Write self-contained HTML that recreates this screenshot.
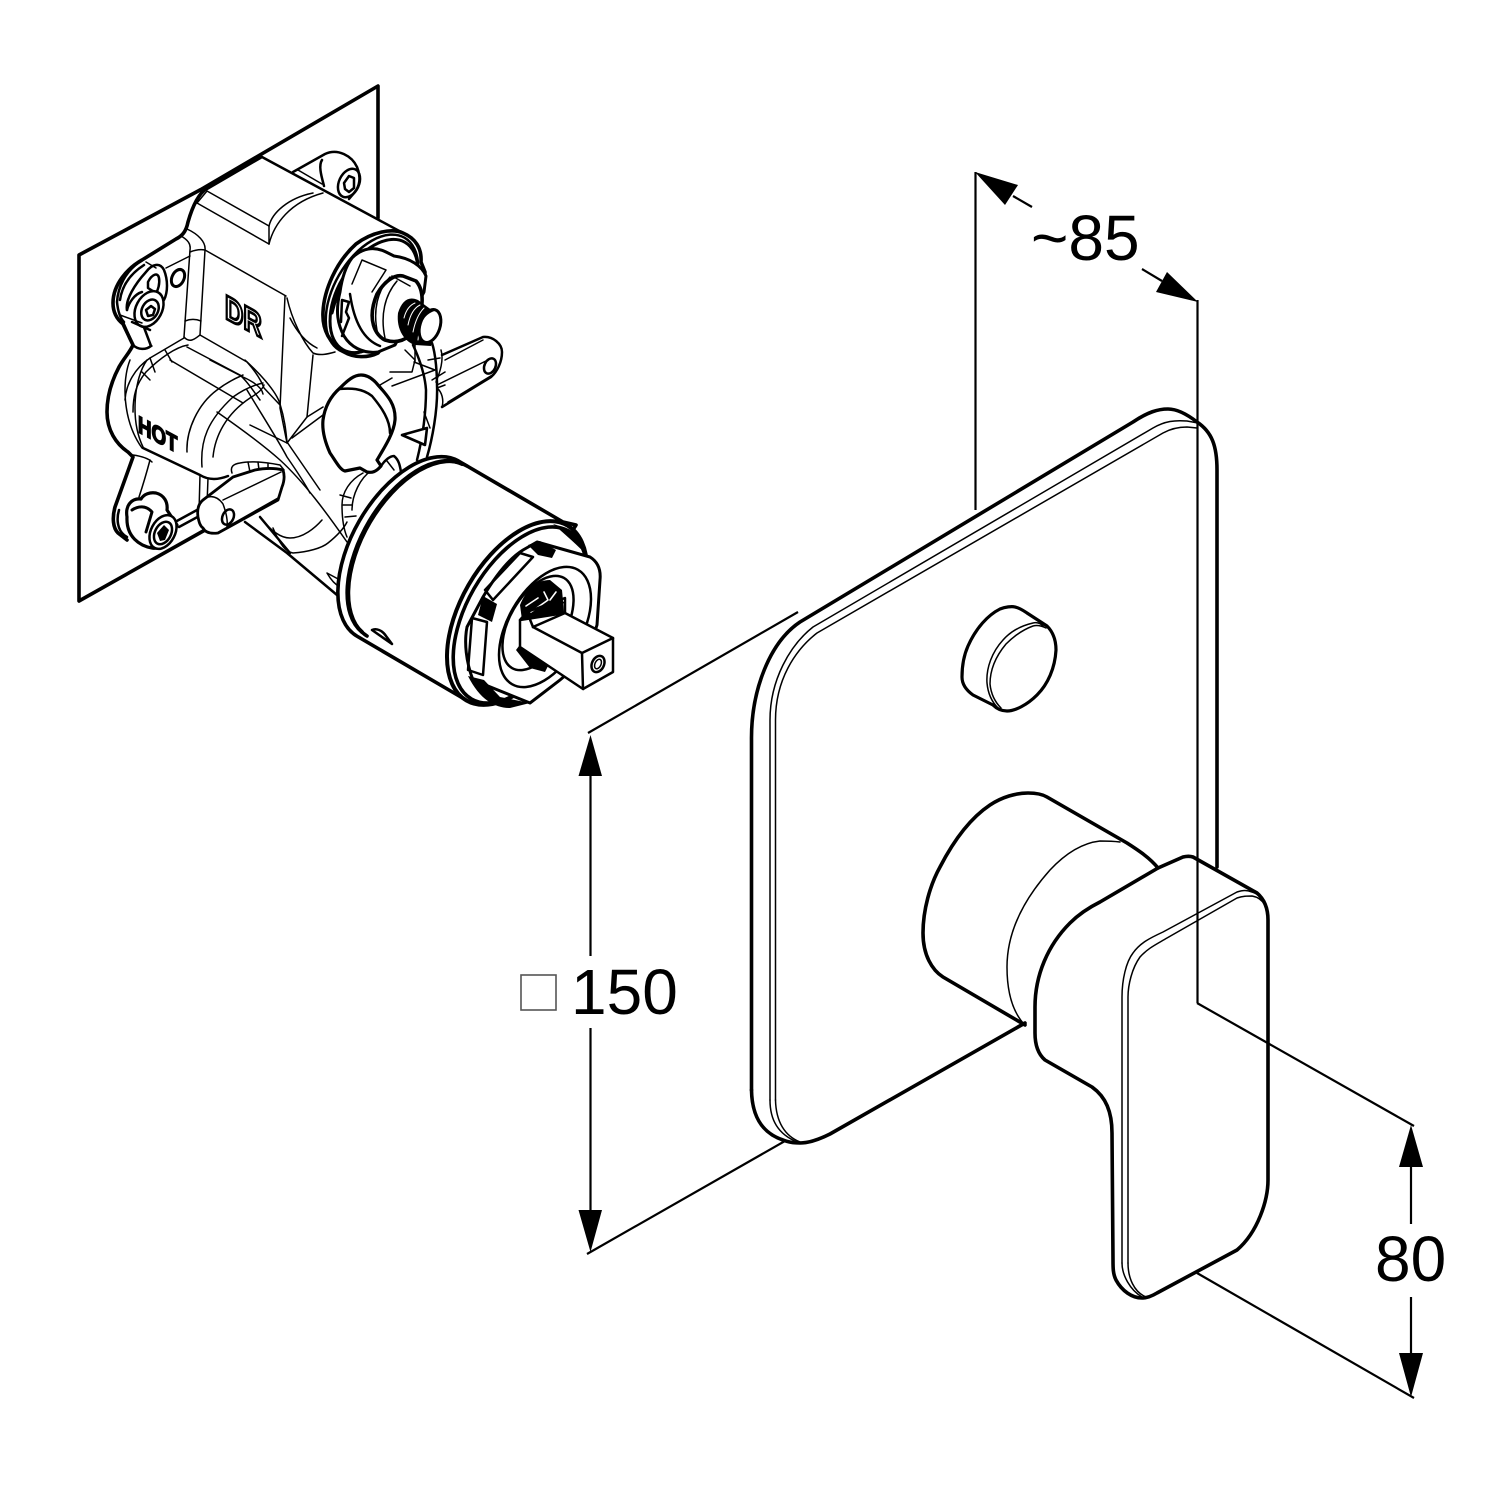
<!DOCTYPE html>
<html><head><meta charset="utf-8"><title>Diagram</title>
<style>html,body{margin:0;padding:0;background:#fff}svg{display:block}
.k{stroke:#000;fill:none;stroke-linecap:round;stroke-linejoin:round}
.t3{stroke-width:3.6}.t2{stroke-width:2.5}.t1{stroke-width:1.5}.w{fill:#fff}.f{fill:#000;stroke:none}
text{font-family:"Liberation Sans",sans-serif}</style></head><body>
<svg width="1500" height="1500" viewBox="0 0 1500 1500" xmlns="http://www.w3.org/2000/svg">
<rect width="1500" height="1500" fill="#fff"/>

<!-- wall plate -->
<g class="k t3">
<path d="M200 190L378 86V218"/><path d="M205 530L79 601V255L200 190"/>
</g>

<!-- valve body: outline -->
<g class="k t3">
<path d="M207 188C198 194 192 208 188 222C186 232 182 236 176 239L142 260C128 268 113 284 113 303C113 314 118 320 123 324L133 345C130 352 124 358 119 367C110 384 107 398 107 412C107 430 116 444 128 452L133 457L115 507C112 518 113 528 118 533L127 540"/>
</g>
<g class="k t2">
<path d="M262 157L403 233"/>
<path d="M262 157L207 189"/>
<path d="M293 172L325 154C338 148 352 156 357 167C361 177 360 186 354 193L349 199"/>
<path d="M322 160C318 166 322 178 324 186"/>
<ellipse cx="349" cy="183" rx="10" ry="15" transform="rotate(25 349 183)"/>
<path d="M344 183L349 176L354 178L354 188L349 192L345 189Z"/>
</g>
<g class="k t1">
<path d="M207 191L269 226"/><path d="M197 203L269 244"/>
<path d="M269 226L269 244"/><path d="M207 191L197 203"/>
<path d="M269 244C274 224 290 202 323 193"/><path d="M269 226C272 213 288 198 313 193"/>
<path d="M298 170L322 184"/>
<path d="M187 229C198 234 206 242 205 250L200 335"/>
<path d="M181 236C188 240 191 244 190 250L184 337"/>
<path d="M190 252C195 250 200 249 205 250"/><path d="M185 321C190 319 196 319 201 321"/>
<path d="M205 250L286 296"/>
<path d="M285 296L280 408L287 443"/>
<path d="M287 298C292 320 303 342 313 353C320 356 328 354 335 352"/>
<path d="M290 318C296 330 305 342 317 348"/>
<path d="M313 355L307 417L287 443"/><path d="M292 438L323 415"/><path d="M307 417L323 407"/>
<path d="M200 335L247 362C256 372 261 380 264 388L280 405"/>
<path d="M187 347L240 375C248 382 254 392 260 400"/>
<path d="M184 337C190 344 196 338 200 335"/>
<path d="M184 338L150 358C135 368 126 384 125 400"/>
<path d="M188 345C176 347 160 358 146 372C136 384 133 396 133 412"/>
<path d="M165 350L172 362"/><path d="M150 358L155 372"/><path d="M142 372L150 380"/>
<path d="M130 360C122 380 122 420 142 448"/>
<path d="M147 360C134 378 130 420 143 447"/>
<path d="M170 360L243 403"/>
<path d="M210 360L243 377C254 382 262 388 263 394"/>
<path d="M245 360C256 370 276 390 280 404C285 420 286 432 287 442"/>
<path d="M187 452C186 430 198 404 217 390C226 383 236 378 243 375"/>
<path d="M202 467C200 440 208 420 233 397C244 389 254 385 263 383"/>
<path d="M213 457C215 436 226 414 250 398C258 393 262 390 264 385"/>
<path d="M217 412C240 428 262 444 280 460C304 482 326 512 347 542"/>
<path d="M247 390C262 415 278 440 287 457C296 470 304 482 310 493"/>
<path d="M260 517C270 530 280 538 290 538C303 538 315 528 322 520"/>
<path d="M273 528C280 545 286 552 293 553C308 552 322 548 328 543C338 535 344 528 347 522"/>
<path d="M287 442L320 490"/>
<path d="M363 473C350 480 342 492 342 505C342 518 344 530 347 537"/>
<path d="M372 470C360 478 352 495 352 510"/>
<path d="M343 505L352 505"/><path d="M345 517L356 516"/><path d="M340 495L351 498"/>
<path d="M327 573C331 580 336 585 340 587L340 580Z"/>
<path d="M250 425L287 443"/>
<path d="M200 475L199 512"/><path d="M208 478L207 505"/>
</g>
<!-- ear left upper -->
<g class="k t2">
<path d="M138 263C126 272 118 286 117 302C118 312 120 318 124 322"/>
<path d="M144 265C130 274 122 286 120 300"/>
<path d="M123 322L133 345C138 350 146 350 151 346L142 322"/>
<path d="M127 310C125 300 135 284 146 272C152 264 160 262 164 270C168 280 168 292 164 300"/>
<path d="M148 282C152 274 158 272 159 278C160 284 158 290 156 293L148 288Z"/>
<ellipse cx="149" cy="309" rx="13" ry="19" class="w" transform="rotate(28 149 309)"/>
<path d="M127 310C129 302 135 294 142 292"/><path d="M132 322L150 330"/>
<ellipse cx="150" cy="310" rx="8" ry="11" transform="rotate(28 150 310)"/>
<path d="M146 310L151 306L155 309L153 315L148 316Z"/>
<ellipse cx="178" cy="278" rx="6" ry="9" stroke-width="3" transform="rotate(25 178 278)"/>
</g>
<path class="k t1" d="M150 345L152 346M166 268L190 256"/>
<path class="k t1" d="M146 262L156 268M120 315L142 323"/>
<!-- ear left lower + screw -->
<g class="k t1"><path d="M150 460C146 475 142 488 139 497"/><path d="M133 455C140 456 148 458 152 462"/></g>
<g class="k t2">
<path d="M119 510C116 520 118 530 124 535L127 537"/>
<path d="M175 522L197 510"/><path d="M179 527L203 514"/>
<path class="w" stroke-width="3.2" d="M127 517C125 505 132 498 141 499C144 494 150 492 156 493C164 495 168 502 167 510L177 525C172 540 162 550 152 548C140 546 126 537 127 517Z"/>
<path stroke-width="3" d="M132 510C138 506 146 505 152 512L146 532"/>
<ellipse cx="163" cy="532" rx="12" ry="18" class="w" transform="rotate(28 163 532)"/>
<ellipse cx="163" cy="533" rx="8" ry="12" transform="rotate(28 163 533)"/>
<path class="f" d="M157 533L164 525L169 530L165 540L160 541Z"/>
<path d="M245 522L287 553L337 595"/>
<path d="M260 517L290 553"/>
<path d="M143 448L200 475C208 480 218 480 228 476"/>
</g>

<!-- left tab -->
<path class="k t1" d="M232 473C230 467 233 464 240 463C250 461 265 462 280 465L284 470"/>
<path class="k t1" d="M248 462L250 472M258 462L259 470M268 463L268 468"/>
<path class="k w" stroke-width="2.8" d="M198 517C197 510 198 504 203 500L233 477L255 470C265 468 275 468 283 470C285 476 284 482 282 487L278 500L218 533C210 534 205 532 203 528C200 526 199 522 198 517Z"/>
<path class="k t1" d="M205 498C212 495 218 497 223 504C226 512 228 520 227 527"/>
<path class="k t1" d="M223 500L281 472"/><path class="k t1" d="M227 527L278 498"/>
<ellipse class="k t2" cx="228" cy="517" rx="5.500" ry="8" transform="rotate(25 228 517)"/>

<!-- knob -->
<path class="k w" stroke-width="3.200" d="M323 420C325 405 332 395 340 388C348 380 354 375 361 375C368 375 374 380 378 385C388 396 396 405 395 420C394 432 386 445 377 460L381 466C376 472 372 473 367 472L360 468L345 471C340 470 335 460 330 453C325 442 322 430 323 420Z"/>
<path class="k t2" d="M339 389C350 388 362 388 372 396C382 408 390 420 390 433"/>
<path class="k t2" d="M381 466C385 460 390 456 394 456C399 460 400 466 401 472"/>
<path class="k t1" d="M387 461L394 470"/>

<!-- right tab -->
<path class="k t2" d="M442 355L483 337C493 336 502 344 502 352C502 362 497 372 491 377L442 407"/>
<path class="k t1" d="M445 360L483 340"/><path class="k t1" d="M437 385L492 358"/><path class="k t1" d="M448 402L494 374"/>
<ellipse class="k t2" cx="490" cy="366" rx="5.500" ry="8" transform="rotate(25 490 366)"/>
<!-- pipe strip -->
<g class="k t2">
<path d="M413 345C420 360 425 375 426 390C426 415 422 440 417 460"/>
<path d="M432 343C436 355 437 375 437 385C438 410 432 440 427 457"/>
</g>
<g class="k t1"><path d="M428 360L440 358"/><path d="M432 380L445 372"/><path d="M437 388L445 385"/><path d="M441 350C444 360 440 372 436 382"/><path d="M437 388C442 392 444 400 442 407"/><path d="M405 350L415 360L412 372L390 372"/><path d="M415 345L415 362"/><path d="M414 362L435 370L392 386"/><path d="M380 385L392 378"/></g>
<path class="k w" stroke-width="2.600" d="M402 435L427 428L425 445Z"/>
<path class="k t1" d="M424 412L430 428"/>

<!-- upper rings and spindle -->
<path class="k t3 w" d="M403 233C415 238 422 248 421 262L425 272C425 282 422 294 412 300L395 330L378 353C368 358 354 358 344 352C330 344 322 330 323 312C324 290 336 262 356 244C372 232 392 228 403 233Z"/>
<ellipse class="k t2" cx="372" cy="294" rx="38" ry="65" transform="rotate(30 372 294)"/>
<ellipse class="k" stroke-width="3" cx="374" cy="296" rx="36" ry="62" transform="rotate(30 374 296)"/>
<path class="k" stroke-width="3" d="M332 313C338 288 350 262 372 247"/>
<path class="k w" stroke-width="3" d="M352 258C362 248 374 246 386 252L394 256C410 258 422 266 426 276L424 292L410 318L395 345L378 352C362 354 350 346 344 336C338 325 335 312 340 292C342 278 346 266 352 258Z"/>
<path class="k t2" d="M341 322L342 300L349 302L346 312L349 318L342 336"/>
<path class="k t1" d="M352 284L362 260L386 270L372 292"/>
<path class="k t2" d="M350 294C354 322 364 340 380 346"/>
<path class="k t3 w" d="M377 294C384 282 394 274 403 276L416 281C424 290 425 308 414 330C408 340 397 344 385 340C376 336 366 320 377 294Z"/>
<path class="k t1" d="M390 277C378 290 372 310 378 335"/><path class="k t1" d="M397 281C385 295 380 315 385 338"/>
<path class="k t1" d="M392 276L410 286"/>
<path class="f" d="M398 313C402 300 409 296 418 300L440 316L431 346L415 345C405 342 396 330 398 313Z"/>
<g class="k" stroke="#fff" stroke-width="1" style="stroke:#fff"><path d="M404 318C406 310 410 305 415 303"/><path d="M408 325C410 315 414 308 420 305"/><path d="M413 332C415 322 418 314 424 308"/><path d="M418 340C419 328 423 318 428 313"/></g>
<ellipse class="k w" stroke-width="3" cx="430" cy="326" rx="10" ry="17" transform="rotate(18 430 326)"/>
<path class="k t1" d="M421 322C424 316 428 312 435 310"/>

<!-- cartridge -->
<path class="k w" stroke-width="3.600" d="M458.500 461A56 101 30 0 0 357.500 636.500L466 700L576 525L563 522Z"/>
<path class="k" stroke-width="4" d="M462 464A54 98 30 0 0 362 632"/>
<path class="k t3" d="M467 466A53 95 30 0 0 367 636"/>
<path class="k t2" d="M372 630C376 628 382 630 386 636L392 644Z"/>
<ellipse class="k w" stroke-width="4" cx="517" cy="613" rx="56" ry="101" transform="rotate(30 517 613)"/>
<ellipse class="k t3" cx="520" cy="615" rx="53" ry="97" transform="rotate(30 520 615)"/>
<path class="f" d="M553 524C570 528 582 540 588 556C578 546 566 535 553 524Z"/>
<path class="k w" stroke-width="3" d="M483 597C496 575 510 558 523 550L537 542L590 557C598 562 601 570 600 580L597 625C590 648 575 668 560 680L530 703L473 680C466 662 464 642 467 627Z"/>
<path class="f" d="M483 596L497 604L492 622L478 615Z"/>
<path class="f" d="M528 545L540 541L556 550L552 558L538 555Z"/>
<path class="f" d="M468 676L484 680L500 697L530 703L510 708C495 708 480 700 468 676Z"/>
<path class="k t2" d="M485 590L520 553L533 557L493 600Z"/>
<path class="k t2" d="M472 618L487 622L483 675L468 670Z"/>
<ellipse class="k t2" cx="545" cy="627" rx="37" ry="66" transform="rotate(30 545 627)"/>
<ellipse class="k t2" cx="538" cy="623" rx="28" ry="52" transform="rotate(30 538 623)"/>
<path class="f" d="M520 605C526 590 536 580 550 580L562 590L564 612L530 625L522 620Z"/>
<path class="k" style="stroke:#fff" stroke-width="1.6" d="M526 606L538 598M531 612L548 600L544 592M550 600L556 592"/>
<path class="f" d="M516 650L522 642L528 650L538 660L548 666L545 672L530 668Z"/>
<path class="k w t2" d="M520 620L565 613L613 638L613 672L583 689L520 647Z"/>
<path class="k t2" d="M533 627L582 653L613 638"/><path class="k t2" d="M582 653L583 689"/>
<path class="k t2" d="M520 620L527 612L565 598L565 613L533 627"/>
<path class="k t1" d="M538 612L565 602"/>
<path class="k t2" d="M527 612L533 627"/>
<ellipse class="k t2" cx="598" cy="664" rx="6" ry="8.500" transform="rotate(25 598 664)"/>
<ellipse class="k t1" cx="598" cy="664" rx="3" ry="5" transform="rotate(25 598 664)"/>

<!-- embossed labels -->
<text x="0" y="0" transform="matrix(.75,.41,0,1,225,318)" font-size="34" font-weight="700" fill="#fff" stroke="#000" stroke-width="3">DR</text>
<text x="0" y="0" transform="matrix(.78,.42,0,1,138,432)" font-size="24" font-weight="700" fill="#000" stroke="#000" stroke-width="1.600">HOT</text>

<!-- plate -->
<path class="k t3" d="M751.500 1090V740C751 690 770 642 800 622L1133 422C1148 412 1158 409 1168 409C1178 409 1188 415 1197 422C1212 432 1217 446 1217 470V867"/>
<path class="k t3" d="M751.500 1090C752 1120 765 1134 783 1140C790 1143 796 1143 800 1143C810 1143 820 1139 830 1134L1025 1023"/>
<path class="k t1" d="M770 1100V720C770 680 790 645 813 627L1153 428C1165 421 1175 420 1187 421L1198 423"/>
<path class="k t1" d="M775.500 1100V720C775.500 680 795 650 817 633L1163 433C1172 428 1180 427 1187 427L1197 428"/>
<path class="k t1" d="M770 1100C770 1120 778 1134 797 1142"/>
<path class="k t1" d="M775.500 1100C776 1122 785 1136 800 1142"/>

<!-- button -->
<path class="k w" stroke-width="3.200" d="M962 677C962 664 964 655 968 646C976 628 988 615 1000 609C1005 607 1012 606 1015 607C1020 608 1024 611 1027 613L1047 626C1053 632 1056 640 1056 650C1055 668 1048 684 1037 695C1027 705 1015 711 1007 711C1000 711 996 708 993 705L973 695C966 690 962 684 962 677Z"/>
<path class="k t1" d="M1043 626C1040 623 1037 622 1033 623C1020 626 1010 632 1003 640C992 652 986 668 987 683C988 694 992 702 998 708"/>
<path class="k t1" d="M1046 628C1042 626 1037 625 1033 626C1022 630 1014 636 1006 644C996 656 990 670 990 684C991 694 995 702 1001 708"/>

<!-- cylinder -->
<path class="k t3" d="M1025 1025L943 977C932 970 923 955 923 933C923 910 930 885 940 867C955 838 972 817 990 805C1002 797 1016 793 1028 793C1036 793 1042 794 1047 797L1127 843C1138 850 1150 858 1158 868"/>
<path class="k t1" d="M1120 842C1112 841 1106 841 1100 841C1082 843 1065 854 1050 870C1025 898 1007 930 1007 967C1007 990 1012 1010 1023 1023"/>

<!-- lever -->
<path class="k t3" d="M1158 868L1183 857C1187 856 1190 856 1193 857L1257 893C1264 899 1268 908 1268 920V1180C1268 1200 1258 1232 1237 1250L1157 1293C1152 1296 1147 1298 1142 1298C1132 1298 1122 1291 1116 1280C1113 1274 1113 1268 1113 1260L1112 1133C1112 1112 1106 1097 1092 1087L1045 1060C1038 1054 1035 1045 1035 1033V1007C1035 975 1048 945 1070 923C1080 913 1090 907 1100 902Z"/>
<path class="k t1" d="M1122 1263V997C1122 980 1126 962 1133 953C1140 943 1150 938 1163 932L1237 892C1243 890 1247 890 1252 892C1259 894 1262 898 1265 903"/>
<path class="k t1" d="M1128 1263V997C1128 985 1132 968 1140 957C1148 948 1157 944 1167 938L1237 898C1243 896 1247 896 1252 896C1258 897 1262 900 1265 905"/>
<path class="k t1" d="M1122 1263C1122 1275 1130 1290 1142 1297"/>
<path class="k t1" d="M1128 1263C1128 1278 1134 1292 1146 1297"/>

<!-- dimension lines -->
<g stroke="#000" fill="none" stroke-width="2.200">
<path d="M975.500 172V510"/><path d="M1197.500 300V1003"/>
<path d="M1013 196L1032 207"/><path d="M1142 269L1162 281"/>
<path d="M588 733L798 612"/><path d="M587 1254L785 1141"/>
<path d="M590.500 776V956"/><path d="M590.500 1028V1212"/>
<path d="M1197 1003L1414 1126"/><path d="M1197 1273L1414 1398"/>
<path d="M1411 1167V1224"/><path d="M1411 1297V1353"/>
</g>
<g class="f">
<polygon points="975,172 1018,185 1005,205"/>
<polygon points="1198,302 1167,272 1156,292"/>
<polygon points="590.500,735 578.500,776 602,776"/>
<polygon points="590.500,1252 578.500,1210 602,1210"/>
<polygon points="1411,1125 1399,1167 1423,1167"/>
<polygon points="1411,1397 1399,1353 1423,1353"/>
</g>
<rect x="521" y="975" width="35" height="35" fill="none" stroke="#555" stroke-width="1.600"/>
<text x="1031" y="260" font-size="64" fill="#000">~85</text>
<text x="571" y="1014" font-size="64" fill="#000">150</text>
<text x="1375" y="1281" font-size="64" fill="#000">80</text>
</svg></body></html>
